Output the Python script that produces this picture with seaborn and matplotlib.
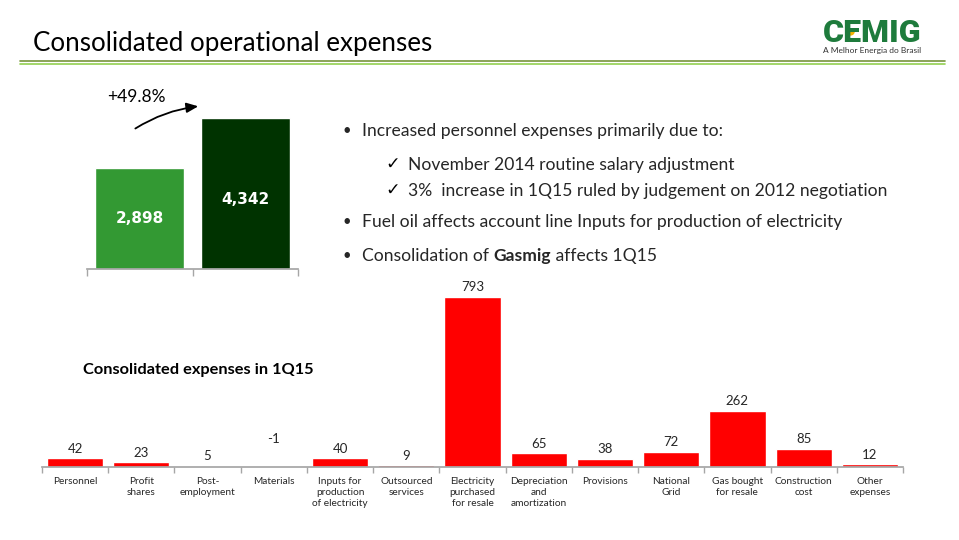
import matplotlib
matplotlib.use("Agg")
import matplotlib.pyplot as plt
import seaborn as sns
import numpy as np
import pandas as pd
from matplotlib.lines import Line2D
from matplotlib.patches import Ellipse

# ---------------- data ----------------
periods = ["1Q14", "1Q15"]
period_values = [2898, 4342]
period_labels = ["2,898", "4,342"]
growth_label = "+49.8%"

categories = ["Personnel", "Profit\nshares", "Post-\nemployment", "Materials",
              "Inputs for\nproduction\nof electricity", "Outsourced\nservices",
              "Electricity\npurchased\nfor resale", "Depreciation\nand\namortization",
              "Provisions", "National\nGrid", "Gas bought\nfor resale",
              "Construction\ncost", "Other\nexpenses"]
expense_values = [42, 23, 5, -1, 40, 9, 793, 65, 38, 72, 262, 85, 12]

title = "Consolidated operational expenses"
subtitle = "Consolidated expenses in 1Q15"

# ---------------- style ----------------
sns.set_theme(style="white")
plt.rcParams["font.family"] = ["Lato", "DejaVu Sans"]

W, H = 959, 540
fig = plt.figure(figsize=(W / 100, H / 100), dpi=100)


def fx(x):
    return x / W


def fy(y):
    return 1 - y / H


def ax_rect(x0, y0, x1, y1):
    return [fx(x0), fy(y1), fx(x1) - fx(x0), fy(y0) - fy(y1)]


TXT = "#262626"
AXC = "#A6A6A6"

# title and rules
fig.text(fx(33), fy(44), title, fontsize=18.7, color="#000000", va="center", ha="left")
fig.add_artist(Line2D([fx(20), fx(945)], [fy(61), fy(61)], color="#77933C", lw=1.2))
fig.add_artist(Line2D([fx(20), fx(945)], [fy(63.5), fy(63.5)], color="#92D050", lw=1.2))

# logo
fig.text(fx(872), fy(33), "CEMIG", fontsize=23, fontweight="black", color="#1E7B3C",
         ha="center", va="center", family=["Roboto", "DejaVu Sans"])
fig.add_artist(Ellipse((fx(850), fy(32)), 8 / W, 6 / H, color="#F2B200"))
fig.text(fx(872), fy(50), "A Melhor Energia do Brasil", fontsize=6, color="#333333",
         ha="center", va="center")

# ---------------- small chart ----------------
ax1 = fig.add_axes(ax_rect(87, 100, 298, 269))
df1 = pd.DataFrame({"period": periods, "value": period_values})
sns.barplot(data=df1, x="period", y="value", hue="period",
            palette=["#339933", "#003300"], width=0.84, legend=False, ax=ax1,
            saturation=1)
ax1.set_ylim(0, 4860)
ax1.set_xlim(-0.5, 1.5)
for i, (v, lab) in enumerate(zip(period_values, period_labels)):
    ax1.text(i, v / 2 if i == 0 else v * 0.46, lab, ha="center", va="center", color="white",
             fontsize=11, fontweight="bold", family="DejaVu Sans")
for s in ["top", "right", "left"]:
    ax1.spines[s].set_visible(False)
ax1.spines["bottom"].set_color(AXC)
ax1.set_yticks([])
ax1.set_xticks([-0.5, 0.5, 1.5])
ax1.set_xticklabels([])
ax1.tick_params(axis="x", length=5, color=AXC, width=1, direction="out", bottom=True)
ax1.set_xlabel("")
ax1.set_ylabel("")
ax1.patch.set_alpha(0)

fig.text(fx(107), fy(97), growth_label, fontsize=12.5, color="#000000", va="center", ha="left")
fig.add_artist(matplotlib.patches.FancyArrowPatch(
    (fx(133), fy(130)), (fx(201), fy(106)), transform=fig.transFigure,
    connectionstyle="arc3,rad=-0.12", arrowstyle="-|>,head_length=7,head_width=3",
    color="#000000", lw=1.3, mutation_scale=1))

# ---------------- bullets ----------------
fs_b = 12.6
fig.text(fx(343), fy(131), "•", fontsize=fs_b - 2, color=TXT, va="center")
fig.text(fx(362), fy(131), "Increased personnel expenses primarily due to:",
         fontsize=fs_b, color=TXT, va="center")
fig.text(fx(385), fy(164), "✓", fontsize=fs_b, color="#000000", va="center",
         family="DejaVu Sans", fontweight="bold")
fig.text(fx(408), fy(165), "November 2014 routine salary adjustment",
         fontsize=fs_b, color=TXT, va="center")
fig.text(fx(385), fy(190), "✓", fontsize=fs_b, color="#000000", va="center",
         family="DejaVu Sans", fontweight="bold")
fig.text(fx(408), fy(191), "3%  increase in 1Q15 ruled by judgement on 2012 negotiation",
         fontsize=fs_b, color=TXT, va="center")
fig.text(fx(343), fy(222), "•", fontsize=fs_b - 2, color=TXT, va="center")
fig.text(fx(362), fy(222), "Fuel oil affects account line Inputs for production of electricity",
         fontsize=fs_b, color=TXT, va="center")
fig.text(fx(343), fy(256), "•", fontsize=fs_b - 2, color=TXT, va="center")

renderer = fig.canvas.get_renderer()
x_cur = fx(362)
for piece, wt in [("Consolidation of ", "normal"), ("Gasmig", "bold"), (" affects 1Q15", "normal")]:
    t = fig.text(x_cur, fy(256), piece, fontsize=fs_b, color=TXT, va="center", fontweight=wt)
    bb = t.get_window_extent(renderer=renderer)
    x_cur += bb.width / fig.bbox.width

fig.text(fx(83), fy(370), subtitle, fontsize=11.8, fontweight="bold", color="#000000",
         va="center", ha="left")

# ---------------- bottom chart ----------------
ax2 = fig.add_axes(ax_rect(42, 280, 903, 467))
df2 = pd.DataFrame({"category": categories, "value": expense_values})
sns.barplot(data=df2, x="category", y="value", color="#FF0000", saturation=1,
            width=0.85, ax=ax2)
ax2.set_ylim(0, 872)
ax2.set_xlim(-0.5, len(categories) - 0.5)
for i, v in enumerate(expense_values):
    ax2.annotate(f"{v}", (i, max(v, 0)), xytext=(0, 2.5 if v >= 0 else 16),
                 textcoords="offset points", ha="center", va="bottom",
                 fontsize=9.5, color=TXT)
for s in ["top", "right", "left"]:
    ax2.spines[s].set_visible(False)
ax2.spines["bottom"].set_color(AXC)
ax2.set_yticks([])
ax2.set_xticks(range(len(categories)))
ax2.set_xticklabels(categories, fontsize=7.3, color=TXT, linespacing=1.3, va="top")
ax2.set_xticks(np.arange(-0.5, len(categories)), minor=True)
ax2.tick_params(axis="x", which="major", length=0, pad=7)
ax2.tick_params(axis="x", which="minor", length=4, color=AXC, width=1, bottom=True)
ax2.set_xlabel("")
ax2.set_ylabel("")
ax2.patch.set_alpha(0)

fig.savefig("out.png", dpi=100)
